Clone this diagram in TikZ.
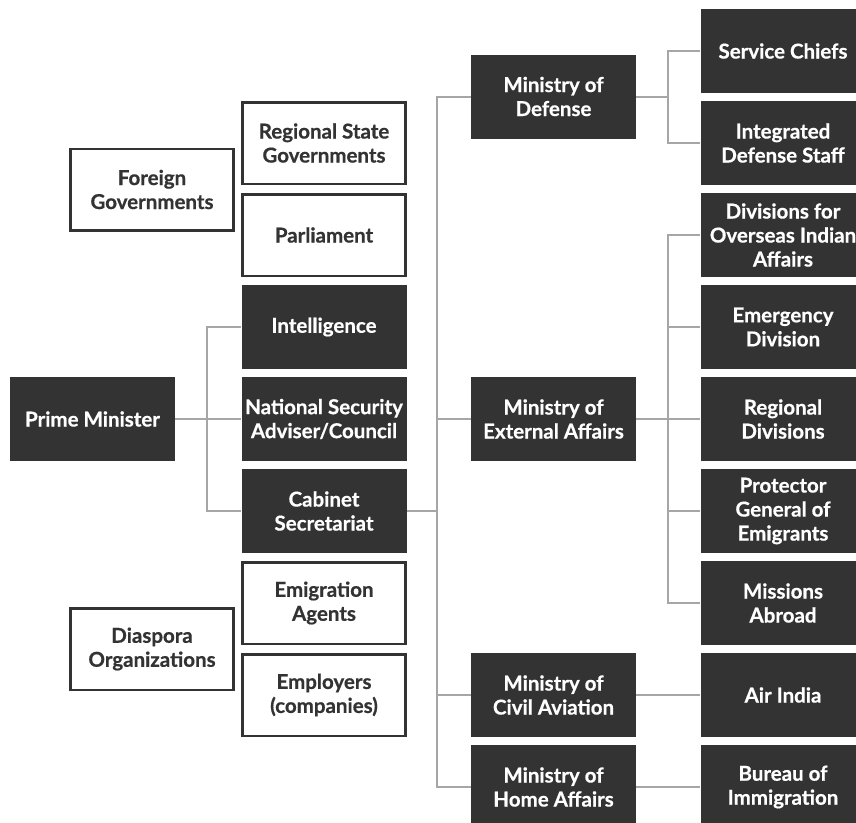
\documentclass[tikz,border=0pt]{standalone}
\usepackage{fontspec}
\setmainfont{Lato}[UprightFont=* Bold, UprightFeatures={FakeBold=0.6}]
\definecolor{boxdark}{HTML}{333333}
\definecolor{conngray}{HTML}{A6A6A6}
\tikzset{
  dbox/.style={fill=boxdark, text=white, minimum width=165pt, minimum height=84pt,
    inner sep=0pt, align=center, font=\fontsize{20.5}{24}\selectfont},
  wbox/.style={fill=white, draw=boxdark, line width=2.5pt, text=boxdark, minimum width=163pt, minimum height=81.5pt,
    inner sep=0pt, align=center, font=\fontsize{20.5}{24}\selectfont},
  conn/.style={draw=conngray, line width=2pt}
}
\begin{document}
\begin{tikzpicture}[x=1pt,y=-1pt]
\useasboundingbox (0,0) rectangle (856,822);
\clip (0,0) rectangle (856,822);
\coordinate (pmspine) at (207,0);
\coordinate (midspine) at (437,0);
\coordinate (rspine) at (668,0);
% nodes
\node[dbox] (pm) at (92.5,419) {Prime Minister};
\node[wbox] (fg) at (152,189.5) {Foreign\\Governments};
\node[wbox] (dia) at (152,649) {Diaspora\\Organizations};
\node[wbox] (rsg) at (324,143) {Regional State\\Governments};
\node[wbox] (parl) at (324,235) {Parliament};
\node[dbox] (intel) at (324,327) {Intelligence};
\node[dbox] (nsa) at (324,419) {National Security\\Adviser/Council};
\node[dbox] (cab) at (324,511) {Cabinet\\Secretariat};
\node[wbox] (emig) at (324,603) {Emigration\\Agents};
\node[wbox] (empl) at (324,695) {Employers\\(companies)};
\node[dbox] (mod) at (553.5,96.5) {Ministry of\\Defense};
\node[dbox] (mea) at (553.5,419) {Ministry of\\External Affairs};
\node[dbox] (mca) at (553.5,695) {Ministry of\\Civil Aviation};
\node[dbox] (mha) at (553.5,787) {Ministry of\\Home Affairs};
\node[dbox] (sc) at (783,51) {Service Chiefs};
\node[dbox] (ids) at (783,143) {Integrated\\Defense Staff};
\node[dbox] (doia) at (783,235) {Divisions for\\Overseas Indian\\Affairs};
\node[dbox] (emd) at (783,327) {Emergency\\Division};
\node[dbox] (regd) at (783,419) {Regional\\Divisions};
\node[dbox] (pge) at (783,511) {Protector\\General of\\Emigrants};
\node[dbox] (mis) at (783,603) {Missions\\Abroad};
\node[dbox] (air) at (783,695) {Air India};
\node[dbox] (boi) at (783,787) {Bureau of\\Immigration};
% connectors
\draw[conn] (pm.east) -- (nsa.west);
\draw[conn] (intel.west) -- (intel.west -| pmspine) -- (cab.west -| pmspine) -- (cab.west);
\draw[conn] (cab.east) -- (cab.east -| midspine);
\draw[conn] (mod.west) -- (mod.west -| midspine) -- (mha.west -| midspine) -- (mha.west);
\draw[conn] (mea.west) -- (mea.west -| midspine);
\draw[conn] (mca.west) -- (mca.west -| midspine);
\draw[conn] (mod.east) -- (mod.east -| rspine);
\draw[conn] (sc.west) -- (sc.west -| rspine) -- (ids.west -| rspine) -- (ids.west);
\draw[conn] (mea.east) -- (regd.west);
\draw[conn] (doia.west) -- (doia.west -| rspine) -- (mis.west -| rspine) -- (mis.west);
\draw[conn] (emd.west) -- (emd.west -| rspine);
\draw[conn] (pge.west) -- (pge.west -| rspine);
\draw[conn] (mca.east) -- (air.west);
\draw[conn] (mha.east) -- (boi.west);
\end{tikzpicture}
\end{document}
